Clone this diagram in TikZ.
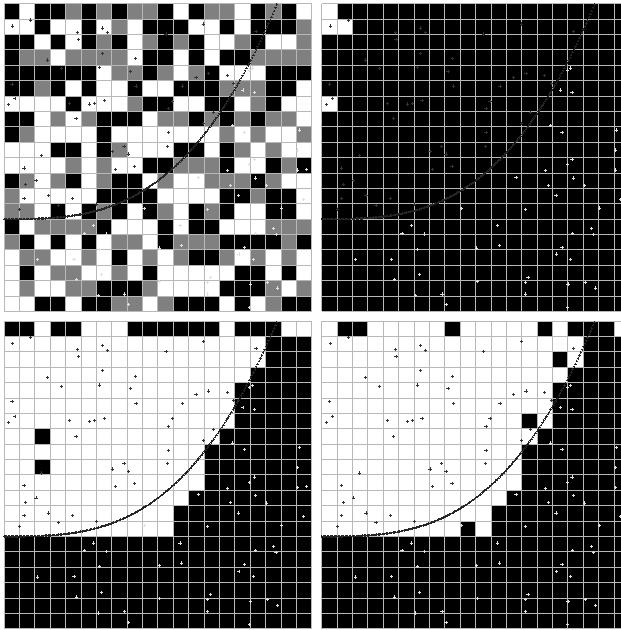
\documentclass[tikz,border=0pt]{standalone}
\definecolor{cB}{gray}{0}
\definecolor{cW}{gray}{1}
\definecolor{cG}{gray}{0.5}
\definecolor{gridc}{gray}{0.72}
\definecolor{ptdark}{gray}{0.2}
\definecolor{curvec}{gray}{0.15}
\definecolor{ptlight}{gray}{0.88}
\tikzset{
  gridline/.style={draw=gridc, line width=0.8pt},
  curvemk/.style={draw=curvec, only marks, mark=+, mark size=1.2pt, line width=0.7pt},
  darkpt/.style={draw=ptdark, line width=0.7pt},
  lightpt/.style={draw=ptlight, line width=0.7pt},
}
\newcommand\darklist{1.73/1.06,0.56/1.45,4.77/1.86,6.41/1.58,6.72/1.89,4.83/2.32,6.41/3.21,2.82/3.66,8.52/3.58,3.73/4.23,6.22/4.16,8.21/4.38,0.52/5.22,8.58/5.35,0.71/6.18,0.30/6.57,4.27/6.46,5.57/6.52,5.89/6.46,6.52/6.31,4.68/7.48,7.80/9.27,7.04/9.62,8.08/9.77,2.45/9.88,12.96/1.32,10.53/1.97,16.38/1.78,13.28/4.55,12.48/4.77,14.50/4.66,11.59/5.35,14.91/5.16,10.94/6.35,10.68/6.83,13.59/7.06,12.96/7.78,10.68/8.39,10.62/9.27,1.30/10.68,7.22/10.75,8.47/10.57,2.08/11.50,1.41/11.77,1.30/12.65,2.88/12.48,4.46/12.65,3.53/13.09,1.02/13.35,6.02/13.02}
\newcommand\lightlist{15.97/4.31,16.16/4.18,15.53/5.61,16.27/5.76,14.86/7.93,15.62/8.36,19.18/8.21,19.09/9.51,16.27/10.14,9.10/13.30,5.81/14.43,5.22/14.93,6.67/14.97,6.22/15.97,2.17/16.64,4.55/16.60,6.33/17.62,4.72/17.94,7.82/18.87,6.11/18.98,8.08/19.57,15.95/10.47,14.54/10.86,19.09/10.81,19.65/10.77,12.63/11.29,16.36/11.33,14.73/11.79,17.07/11.83,15.23/12.48,19.44/12.72,13.22/13.37,18.05/13.28,11.44/14.43,17.53/14.63,17.68/15.02,16.32/14.93,10.08/15.88,11.53/15.73,15.62/15.82,15.27/16.27,16.19/16.60,10.12/18.05,13.41/17.79,13.24/18.12,13.24/18.87,16.01/18.22,17.14/18.12,17.79/18.48,15.97/19.74}
\newcommand\panelover{%
  \foreach \gi in {0,...,20} {
    \draw[gridline] (\gi,0) -- (\gi,20);
    \draw[gridline] (0,\gi) -- (20,\gi);
  }
  \draw[curvemk] plot[domain=0:0.888, samples=200] ({20*\x},{14-20*\x*\x*\x});
  \foreach \px/\py in \darklist {
    \draw[darkpt] (\px-0.1,\py) -- (\px+0.1,\py) (\px,\py-0.1) -- (\px,\py+0.1);
  }
  \foreach \px/\py in \lightlist {
    \draw[lightpt] (\px-0.1,\py) -- (\px+0.1,\py) (\px,\py-0.1) -- (\px,\py+0.1);
  }
}
\begin{document}
\begin{tikzpicture}[x=1pt,y=-1pt]
\useasboundingbox (0,0) rectangle (621,630);
\clip (0,0) rectangle (621,630);
\fill[white] (0,0) rectangle (621,630);
% top-left panel
\begin{scope}[shift={(4,3.7)}, x=15.385pt, y=-15.385pt]
  \foreach \rowlist [count=\r from 0] in {
    {B,W,B,B,G,B,G,B,G,G,B,W,B,G,G,W,B,G,B,W},
    {W,W,B,W,W,B,W,G,W,B,B,B,W,W,B,W,B,B,B,G},
    {B,B,W,B,W,B,G,B,W,G,B,G,B,W,W,G,B,W,W,G},
    {B,G,G,W,G,G,G,G,W,B,B,W,B,W,B,B,G,G,G,G},
    {B,B,B,B,B,B,W,G,G,B,G,W,G,B,W,W,W,B,B,B},
    {B,B,G,B,W,B,W,W,B,W,W,B,B,B,G,G,G,B,B,W},
    {W,W,W,W,B,W,W,W,G,B,B,W,W,B,B,W,G,B,W,W},
    {B,B,W,G,W,G,B,B,B,W,G,G,B,G,B,G,B,G,G,W},
    {B,G,W,W,W,W,B,W,W,W,W,W,W,W,G,W,G,W,W,G},
    {W,W,W,B,B,W,B,G,W,W,W,B,B,W,B,G,W,G,W,W},
    {W,W,W,W,G,W,G,W,W,B,B,G,G,G,B,W,W,B,G,B},
    {B,G,W,G,B,W,G,B,B,W,G,W,W,G,G,G,B,G,W,W},
    {G,W,W,W,W,W,B,B,B,B,W,W,W,W,B,B,G,B,B,W},
    {G,G,W,B,W,B,G,B,W,B,G,W,B,G,B,W,W,B,B,W},
    {B,W,G,G,G,G,B,W,W,W,B,W,B,B,W,W,W,G,G,G},
    {G,B,W,B,W,B,W,G,G,W,B,G,G,G,B,B,B,B,G,B},
    {W,G,G,W,W,G,W,B,W,G,W,G,B,B,G,W,G,W,G,W},
    {W,B,W,G,G,W,W,G,W,B,W,W,W,W,W,B,B,W,B,W},
    {W,G,W,W,G,G,B,B,B,G,W,W,W,W,B,B,B,G,W,G},
    {W,W,B,B,W,B,B,G,G,W,G,B,B,B,W,B,W,G,B,B}} {
    \foreach \cc [count=\k from 0] in \rowlist {
      \fill[fill=c\cc] (\k,\r) rectangle ++(1,1);
    }
  }
  \panelover
\end{scope}
% top-right panel
\begin{scope}[shift={(321.7,3.7)}, x=15.385pt, y=-15.385pt]
  \fill[black] (0,0) rectangle (20,20);
  \fill[white] (0,0) rectangle (1,1) (0,1) rectangle (2,2) (0,6) rectangle (1,7);
  \panelover
\end{scope}
% bottom-left panel
\begin{scope}[shift={(4,321)}, x=15.385pt, y=-15.385pt]
  \fill[white] (0,0) rectangle (20,20);
  \foreach \k in {0,1,3,4,8,9,10,11,12,13,15,16,17} {\fill[black] (\k,0) rectangle ++(1,1);}
  \foreach \r/\s in {1/17,2/17,3/16,4/15,5/15,6/15,7/14,8/13,9/13,10/13,11/12,12/11,13/11} {\fill[black] (\s,\r) rectangle (20,\r+1);}
  \fill[black] (0,14) rectangle (20,20);
  \fill[black] (2,7) rectangle (3,8) (2,9) rectangle (3,10);
  \panelover
\end{scope}
% bottom-right panel
\begin{scope}[shift={(321.7,321)}, x=15.385pt, y=-15.385pt]
  \fill[white] (0,0) rectangle (20,20);
  \foreach \k in {1,2,8,14,16,17,18} {\fill[black] (\k,0) rectangle ++(1,1);}
  \foreach \r/\s in {1/17,2/17,3/16,4/15,5/15,6/15,7/14,8/13,9/13,10/13,11/12,12/11,13/11} {\fill[black] (\s,\r) rectangle (20,\r+1);}
  \fill[black] (0,14) rectangle (20,20);
  \fill[black] (15,2) rectangle (16,3) (13,6) rectangle (14,7) (9,13) rectangle (10,14);
  \panelover
\end{scope}
\end{tikzpicture}
\end{document}
